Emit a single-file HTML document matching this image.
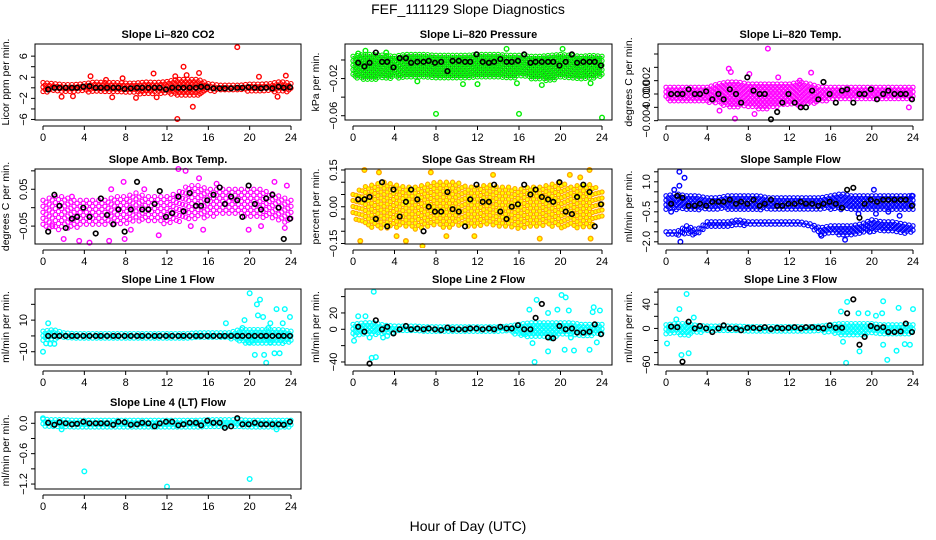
<!DOCTYPE html>
<html><head><meta charset="utf-8"><title>FEF_111129 Slope Diagnostics</title>
<style>
html,body{margin:0;padding:0;background:#fff;}
svg{display:block;font-family:"Liberation Sans",Arial,sans-serif;}
</style></head>
<body>
<svg id="chart" width="936" height="540" viewBox="0 0 936 540">
<rect x="0" y="0" width="936" height="540" fill="#fff"/>
<text x="468" y="14" text-anchor="middle" font-size="14">FEF_111129  Slope Diagnostics</text>
<text x="468" y="531" text-anchor="middle" font-size="14">Hour of Day (UTC)</text>
</svg>
<script>
// shared hours of black (hourly-mean) points
const blkX=[0.5,1.1,1.6,2.2,2.8,3.3,3.9,4.5,5.1,5.6,6.2,6.8,7.3,7.9,8.5,9.1,9.6,10.2,10.8,11.3,11.9,12.5,13.1,13.6,14.2,14.8,15.3,15.9,16.5,17.1,17.6,18.2,18.8,19.3,19.9,20.5,21.1,21.6,22.2,22.8,23.3,23.9];
const xTicks=[0,4,8,12,16,20,24];

// Panel 1: CO2
const co2Lo=[-0.8,-0.8,-0.7,-0.8,-0.8,-1,-1,-0.8,-1,-1.2,-1.2,-1,-1.2,-1.5,-1.6,-1.5,-0.8,-0.6,-0.6,-0.6,-0.8,-0.8,-0.8,-0.9,-0.8];
const co2Hi=[1,0.8,0.6,0.6,0.8,1.1,1,1,0.9,0.9,1.1,1,1.2,1.6,1.6,1.6,0.8,0.5,0.5,0.5,0.7,0.7,0.8,1.2,0.8];
const co2OutX=[1.8,4.6,6.7,7.7,9.0,10.7,11.0,12.8,13.0,13.6,14.5,13.9,15.1,18.8,20.9,22.7,23.5,2.9,6.1];
const co2OutY=[-1.7,2.2,-1.8,1.8,-1.9,2.7,-1.8,2.2,-5.9,4.0,-3.6,2.4,2.8,7.7,2.1,-1.7,2.3,-1.6,1.5];
const co2Blk=[-0.3,0,0,0,0,0,0.2,0.3,0,0,0,0,0,-0.2,-0.1,0,0,0,0,0,-0.3,0,0,0,0,0,0.2,0.1,-0.1,-0.1,-0.1,-0.1,0,0,0.1,0,-0.1,0,-0.1,0.2,0,0.1];

// Panel 2: Pressure
const presLo=[-0.018,-0.022,-0.022,-0.02,-0.02,-0.02,-0.02,-0.02,-0.02,-0.02,-0.02,-0.019,-0.019,-0.02,-0.02,-0.021,-0.019,-0.02,-0.022,-0.022,-0.02,-0.02,-0.021,-0.021,-0.018];
const presHi=[0.004,0.006,0.006,0.005,0.004,0.006,0.006,0.006,0.005,0.005,0.005,0.005,0.006,0.006,0.006,0.005,0.005,0.004,0.004,0.005,0.006,0.005,0.004,0.005,0.004];
const presOutX=[8,16,24,1.2,14.8,20.2,10.6,12,6.2,18.2,15.8,0.5,3.2,22.9];
const presOutY=[-0.058,-0.058,-0.062,0.01,0.012,0.012,-0.026,-0.026,-0.023,-0.027,-0.025,0.007,0.008,-0.025];
const presBlk=[-0.003,-0.007,-0.003,0.008,-0.002,-0.002,-0.008,0.002,0.002,-0.003,-0.002,-0.002,-0.001,-0.003,-0.002,-0.012,-0.001,-0.001,-0.002,-0.002,0.006,-0.002,-0.003,-0.002,0.001,-0.002,-0.002,-0.001,0.006,-0.003,-0.002,-0.002,-0.002,-0.002,-0.006,-0.002,0.006,-0.003,-0.002,-0.002,-0.002,-0.006];

// Panel 3: Li-820 Temp
const tmpLo=[-0.001,-0.0013,-0.0013,-0.001,-0.0013,-0.0015,-0.002,-0.002,-0.002,-0.0022,-0.0022,-0.0018,-0.0015,-0.002,-0.0015,-0.0013,-0.001,-0.001,-0.001,-0.001,-0.001,-0.001,-0.001,-0.001,-0.001];
const tmpHi=[0.001,0.001,0.001,0.001,0.001,0.0015,0.0018,0.0018,0.0015,0.0015,0.0015,0.0015,0.0015,0.0018,0.0015,0.001,0.001,0.001,0.001,0.001,0.001,0.001,0.001,0.001,0.001];
const tmpOutX=[9.9,6.7,6.1,8.1,14.1,5.2,8.6,23.6,6.3,10.9,13.0];
const tmpOutY=[0.0068,-0.0037,0.0038,0.003,0.0032,-0.0025,-0.003,-0.002,0.0033,0.0025,0.002];
const tmpBlk=[0,0,0,0.0007,0,0,0.0004,-0.0008,0,-0.0008,0.0007,0,-0.0013,0.0025,0.0005,0,0,-0.0038,-0.0027,-0.0013,0,-0.0013,-0.002,-0.002,0.0005,-0.0008,0.0018,0,-0.0013,0.0005,0.0007,-0.0013,0,0,0.0007,-0.0008,0,0.0005,0,0,0,-0.0008];

// Panel 4: Amb Box Temp
const ambLo=[-0.06,-0.06,-0.06,-0.06,-0.05,-0.05,-0.05,-0.05,-0.05,-0.04,-0.04,-0.04,-0.05,-0.04,-0.03,-0.03,-0.03,-0.02,-0.02,-0.02,-0.03,-0.03,-0.03,-0.04,-0.04];
const ambHi=[0.02,0.03,0.03,0.02,0.02,0.02,0.02,0.03,0.03,0.04,0.03,0.03,0.03,0.04,0.06,0.06,0.05,0.05,0.05,0.05,0.05,0.05,0.04,0.03,0.02];
const ambOutX=[0.9,2.0,3.5,4.5,6.4,7.9,7.8,11.2,13.1,13.8,14.3,15.1,15.5,19.9,23.6,23.4,8.5,21.1,22.4,6.6,9.8,2.8,16.8];
const ambOutY=[-0.05,-0.085,-0.09,-0.095,-0.09,-0.085,0.07,-0.075,0.105,0.1,-0.05,0.08,-0.06,-0.06,0.06,-0.055,-0.06,-0.05,0.07,0.05,0.05,0.03,0.065];
const ambBlk=[-0.065,0.035,0.005,-0.055,-0.03,-0.025,0.0,-0.025,-0.07,0.025,-0.02,-0.045,-0.005,-0.065,-0.005,0.07,-0.005,-0.005,0.01,0.045,-0.025,-0.015,0.03,-0.01,0.04,0.005,0.005,0.02,0.035,0.055,0.01,0.03,0.02,-0.025,0.06,0.01,-0.005,0.025,0.035,0.0,-0.085,-0.03];

// Panel 5: Gas Stream RH
const rhLo=[-0.04,-0.08,-0.09,-0.09,-0.09,-0.08,-0.1,-0.09,-0.08,-0.09,-0.08,-0.08,-0.08,-0.08,-0.08,-0.08,-0.09,-0.08,-0.08,-0.08,-0.09,-0.08,-0.09,-0.08,-0.05];
const rhHi=[0.05,0.08,0.09,0.1,0.09,0.08,0.08,0.09,0.1,0.1,0.1,0.08,0.08,0.09,0.08,0.08,0.07,0.08,0.08,0.09,0.1,0.08,0.09,0.09,0.06];
const rhOutX=[0.7,1.1,2.5,5.1,6.7,7.5,11.7,13.5,18.0,20.9,21.9,22.8,22.9,4.2,9.0];
const rhOutY=[-0.14,0.15,0.14,-0.14,-0.16,0.14,-0.12,0.13,-0.13,0.13,0.12,0.15,-0.13,-0.12,-0.12];
const rhBlk=[0.03,0.03,0.04,-0.05,0.1,-0.08,0.07,-0.04,0.02,0.07,0.03,-0.1,0.0,-0.02,-0.02,0.06,-0.01,-0.02,-0.08,0.03,0.09,0.02,0.02,0.09,-0.02,-0.05,0.0,0.01,0.09,0.05,0.07,0.04,0.03,0.02,0.1,-0.02,-0.03,0.04,0.09,0.06,-0.08,0.01];

// Panel 6: Sample Flow (two clusters)
const sfLo=[-0.4,-0.4,-0.4,-0.4,-0.4,-0.4,-0.4,-0.4,-0.4,-0.4,-0.4,-0.4,-0.4,-0.4,-0.4,-0.4,-0.4,-0.4,-0.4,-0.4,-0.4,-0.4,-0.4,-0.4,-0.4];
const sfHi=[0.3,0.4,0.3,0.3,0.2,0.2,0.3,0.3,0.3,0.3,0.2,0.2,0.2,0.2,0.2,0.2,0.3,0.4,0.3,0.3,0.3,0.3,0.3,0.3,0.3];
const sfLo2=[-1.7,-1.7,-1.6,-1.7,-1.3,-1.3,-1.3,-1.2,-1.2,-1.2,-1.2,-1.2,-1.2,-1.2,-1.3,-1.7,-1.6,-1.7,-1.7,-1.6,-1.5,-1.5,-1.5,-1.6,-1.6];
const sfHi2=[-1.5,-1.5,-1.2,-1.4,-1.0,-1.0,-1.0,-0.9,-1.0,-1.0,-1.0,-1.0,-1.0,-1.0,-1.1,-1.3,-1.2,-1.2,-1.2,-1.1,-0.9,-1.0,-1.0,-1.1,-1.2];
const sfOutX=[1.3,1.8,1.4,0.5,17.4,18.7,19.8,21.6,22.7,20.4,15.1,23.9,1.3,0.8,20.2];
const sfOutY=[1.5,1.2,-2.0,-0.5,-1.9,-0.6,-1.5,-0.5,-0.7,-0.6,-1.7,0.3,0.8,0.6,0.6];
const sfBlk=[-0.1,0.3,0.2,-0.2,-0.2,-0.1,-0.2,0.0,0.0,0.0,0.1,-0.1,0.0,-0.1,0.1,-0.2,-0.1,0.1,-0.2,-0.2,-0.1,-0.1,0.0,-0.1,-0.1,-0.2,-0.1,0.0,-0.1,-0.3,0.6,0.7,-0.8,-0.1,0.1,0.0,0.1,0.1,0.1,0.1,0.1,-0.2];

// Panel 7: Line 1 Flow
const l1Lo=[-3,-3,-1.5,-1.5,-1.5,-1.5,-1.5,-1.5,-1.5,-1.5,-1.5,-1.5,-1.5,-1.5,-1.5,-2,-2,-2,-2,-4,-5,-5,-5,-5,-5];
const l1Hi=[3,4,2,1.5,1.5,1.5,1.5,1.5,1.5,1.5,1.5,1.5,1.5,1.5,1.5,2,2,2,2,4,4,4,4,4,3];
const l1OutX=[0,0.3,0.7,1.1,0.5,17.7,19.5,19.9,20,20.5,20.7,21,20.8,21.4,21.6,21.3,22.0,22.4,22.6,22.9,23.4,23.9,23.2,22.0,19.3,20.3,21.8];
const l1OutY=[-10,-4.7,-5,-5,8,8,10,-4,27,-12,20,23,13,-12,-17,12,-4,-11,17,-11,17,12,8,8,5,-3,5];
const l1Blk=[0,0,0,0,0,0,0,0,0,0,0,0,0,0,0,0,0,0,0,0,0,0,0,0,0,0,0,0,0,0,0,0,0,0,0,0,0,0,0,0,0,0];

// Panel 8: Line 2 Flow
const l2Lo=[-8,-8,-8,-5,-4,-4,-4,-3,-3,-3,-3,-3,-3,-3,-3,-4,-8,-10,-10,-10,-8,-8,-8,-8,-6];
const l2Hi=[6,8,8,5,4,4,4,3,3,3,3,3,3,3,3,4,6,8,8,8,8,8,6,6,6];
const l2OutX=[0.1,0.5,1.8,2.0,2.2,1.2,1.6,3.3,17.0,17.5,17.7,18.8,18.8,19.7,20.1,20.5,20.8,20.4,21.3,22.8,23.2,23.8,23.5,17.3,19.1,21.0,16.4,23.1,2.9];
const l2OutY=[-14,16,-35,46,-34,16,-10,-8,24,-40,36,-27,20,24,42,39,23,-25,-26,-25,27,23,-16,-17,-11,-10,-5,21,-10];
const l2Blk=[3,-3,-42,11,0,3,-5,0,4,0,1,0,1,0,-1,2,0,0,0,1,1,0,1,0,3,1,1,5,0,0,14,31,-10,-11,4,0,1,-4,-4,-3,6,-6];

// Panel 9: Line 3 Flow
const l3Lo=[-10,-10,-12,-8,-6,-6,-6,-6,-5,-5,-5,-5,-5,-5,-5,-6,-8,-12,-12,-12,-10,-10,-10,-10,-8];
const l3Hi=[6,8,8,5,4,4,4,4,3,3,3,3,3,3,3,4,6,8,8,8,8,6,6,6,6];
const l3OutX=[0.1,1.3,1.5,2.0,2.2,2.7,1.0,17.0,17.5,17.6,18.8,18.7,19.6,20.4,21.1,21.1,21.5,22.4,22.6,23.2,23.7,24.0,17.2,21.0];
const l3OutY=[-25,32,-44,57,-41,18,15,28,-57,44,-38,25,25,21,45,-27,-52,-37,34,-26,-27,32,-22,25];
const l3Blk=[3,2,-55,11,0,4,0,-6,0,5,0,0,-3,1,1,0,2,-1,1,0,1,2,0,2,2,1,0,5,1,1,25,48,-27,-14,4,1,2,-6,-6,-5,8,-6];

// Panel 10: Line 4 (LT) Flow
const l4Lo=[-0.08,-0.1,-0.1,-0.09,-0.09,-0.09,-0.09,-0.09,-0.09,-0.09,-0.09,-0.09,-0.09,-0.09,-0.09,-0.09,-0.09,-0.09,-0.1,-0.1,-0.1,-0.1,-0.1,-0.1,-0.09];
const l4Hi=[0.08,0.07,0.07,0.06,0.06,0.06,0.06,0.06,0.06,0.06,0.06,0.06,0.06,0.06,0.06,0.06,0.07,0.07,0.07,0.07,0.06,0.06,0.06,0.06,0.06];
const l4OutX=[4,12,20,0,1.8,22.6];
const l4OutY=[-0.95,-1.25,-1.1,0.1,-0.12,-0.12];
const l4Blk=[0.01,-0.03,0.02,0.0,-0.02,-0.01,0.03,0.0,0.0,0.0,0.0,-0.03,0.03,0.02,-0.03,-0.02,0.01,0.0,-0.06,0.0,0.03,0.03,-0.04,-0.02,0.01,0.01,-0.04,0.05,0.01,0.01,-0.09,-0.06,0.1,-0.02,-0.02,0.01,-0.02,-0.02,-0.02,-0.02,-0.03,0.03];

const NS='http://www.w3.org/2000/svg';
const svg=document.getElementById('chart');
const cols=[{L:35,R:301},{L:345,R:612},{L:658,R:923}];
const rows=[{T:44,B:120},{T:169,B:244},{T:289,B:365},{T:412,B:489}];

const panels=[
 {id:'co2',title:'Slope Li\u2013820 CO2',ylab:'Licor ppm per min.',c:0,r:0,ymin:-6.1,ymax:8.3,ticks:[-6,-4,-2,0,2,4,6],labs:[[-6,'\u22126'],[-2,'\u22122'],[2,'2'],[6,'6']],col:'#ff0000',fill:'none',lo:co2Lo,hi:co2Hi,ox:co2OutX,oy:co2OutY,blk:co2Blk},
 {id:'pressure',title:'Slope Li\u2013820 Pressure',ylab:'kPa per min.',c:1,r:0,ymin:-0.0646,ymax:0.0172,ticks:[-0.06,-0.04,-0.02,0],labs:[[-0.02,'\u22120.02'],[-0.06,'\u22120.06']],col:'#00ee00',fill:'none',lo:presLo,hi:presHi,ox:presOutX,oy:presOutY,blk:presBlk,dots:true},
 {id:'li820-temp',title:'Slope Li\u2013820 Temp.',ylab:'degrees C per min.',c:2,r:0,ymin:-0.0039,ymax:0.0075,ticks:[-0.004,-0.002,0,0.002,0.004,0.006],labs:[[-0.004,'\u22120.004'],[0,'0.000'],[0.002,'0.002']],col:'#ff00ff',fill:'none',lo:tmpLo,hi:tmpHi,ox:tmpOutX,oy:tmpOutY,blk:tmpBlk},
 {id:'amb-box-temp',title:'Slope Amb. Box Temp.',ylab:'degrees C per min.',c:0,r:1,ymin:-0.0986,ymax:0.105,ticks:[-0.05,0,0.05,0.1],labs:[[-0.05,'\u22120.05'],[0.05,'0.05']],col:'#ff00ff',fill:'none',lo:ambLo,hi:ambHi,ox:ambOutX,oy:ambOutY,blk:ambBlk,sparse:true},
 {id:'gas-stream-rh',title:'Slope Gas Stream RH',ylab:'percent per min.',c:1,r:1,ymin:-0.152,ymax:0.154,ticks:[-0.15,-0.1,-0.05,0,0.05,0.1,0.15],labs:[[-0.15,'\u22120.15'],[0,'0.00'],[0.15,'0.15']],col:'#ffa500',fill:'#ffff00',lo:rhLo,hi:rhHi,ox:rhOutX,oy:rhOutY,blk:rhBlk,sparse:true},
 {id:'sample-flow',title:'Slope Sample Flow',ylab:'ml/min per min.',c:2,r:1,ymin:-2.11,ymax:1.64,ticks:[-2,-1.5,-1,-0.5,0,0.5,1,1.5],labs:[[-2,'\u22122.0'],[-0.5,'\u22120.5'],[1,'1.0']],col:'#0000ff',fill:'none',lo:sfLo,hi:sfHi,lo2:sfLo2,hi2:sfHi2,ox:sfOutX,oy:sfOutY,blk:sfBlk},
 {id:'line1-flow',title:'Slope Line 1 Flow',ylab:'ml/min per min.',c:0,r:2,ymin:-18.4,ymax:29.7,ticks:[-10,0,10,20],labs:[[-10,'\u221210'],[10,'10']],col:'#00ffff',fill:'none',lo:l1Lo,hi:l1Hi,ox:l1OutX,oy:l1OutY,blk:l1Blk},
 {id:'line2-flow',title:'Slope Line 2 Flow',ylab:'ml/min per min.',c:1,r:2,ymin:-43.7,ymax:49.3,ticks:[-40,-20,0,20,40],labs:[[-40,'\u221240'],[0,'0'],[20,'20']],col:'#00ffff',fill:'none',lo:l2Lo,hi:l2Hi,ox:l2OutX,oy:l2OutY,blk:l2Blk},
 {id:'line3-flow',title:'Slope Line 3 Flow',ylab:'ml/min per min.',c:2,r:2,ymin:-60.5,ymax:65.2,ticks:[-60,-40,-20,0,20,40,60],labs:[[-60,'\u221260'],[0,'0'],[40,'40']],col:'#00ffff',fill:'none',lo:l3Lo,hi:l3Hi,ox:l3OutX,oy:l3OutY,blk:l3Blk},
 {id:'line4-flow',title:'Slope Line 4 (LT) Flow',ylab:'ml/min per min.',c:0,r:3,ymin:-1.298,ymax:0.223,ticks:[-1.2,-0.9,-0.6,-0.3,0],labs:[[-1.2,'\u22121.2'],[-0.6,'\u22120.6'],[0,'0.0']],col:'#00ffff',fill:'none',lo:l4Lo,hi:l4Hi,ox:l4OutX,oy:l4OutY,blk:l4Blk}
];

function mk(tag,attrs,parent){const e=document.createElementNS(NS,tag);for(const k in attrs)e.setAttribute(k,attrs[k]);(parent||svg).appendChild(e);return e;}
function interp(arr,t){const i=Math.min(23,Math.floor(t));const f=t-i;return arr[i]*(1-f)+arr[i+1]*f;}

panels.forEach(p=>{
  const L=cols[p.c].L,R=cols[p.c].R,T=rows[p.r].T,B=rows[p.r].B;
  const x0=L+8,x1=R-10;
  const xs=h=>x0+(x1-x0)*h/24;
  const ys=v=>B-(B-T)*(v-p.ymin)/(p.ymax-p.ymin);
  const g=mk('g',{});
  
  
  const clipId='clip-'+p.id;
  const cp=mk('clipPath',{id:clipId},g);
  mk('rect',{x:L-4,y:T-4,width:R-L+8,height:B-T+8},cp);
  const pts=mk('g',{'clip-path':'url(#'+clipId+')'},g);
  
  
  function band(lo,hi,step,ystep){
    let k=0;
    for(let t=0;t<=24.001;t+=step){
      const yl=ys(interp(lo,t)),yh=ys(interp(hi,t));
      const top=Math.min(yl,yh),bot=Math.max(yl,yh);
      const off=(k%2)*ystep/2;k++;
      for(let y=top+off;y<=bot+0.1;y+=ystep){
        const c=mk('circle',{cx:xs(t).toFixed(1),cy:y.toFixed(1),r:2.1,fill:p.fill,stroke:p.col,'stroke-width':1.1},pts);
        
        
        if(p.dots){mk('circle',{cx:xs(t).toFixed(1),cy:y.toFixed(1),r:0.6,fill:'#225522'},pts);}
      }
    }
  }
  band(p.lo,p.hi,p.sparse?0.3:0.2,p.sparse?6:4.5);
  if(p.lo2)band(p.lo2,p.hi2,0.2,4.5);
  p.ox.forEach((h,i)=>{
    const c=mk('circle',{cx:xs(h),cy:ys(p.oy[i]),r:2.3,fill:p.fill,stroke:p.col,'stroke-width':1.4},pts);
    
    
  });
  blkX.forEach((h,i)=>{
    const c=mk('circle',{cx:xs(h),cy:ys(p.blk[i]),r:2.3,fill:'none',stroke:'#000','stroke-width':1.6},pts);
    
    
  });
  const box=mk('rect',{x:L,y:T,width:R-L,height:B-T,fill:'none',stroke:'#000','stroke-width':1},g);
  
  
  const xa=mk('g',{},g);
  
  
  const ay=B+6;
  mk('line',{x1:xs(0),x2:xs(24),y1:ay,y2:ay,stroke:'#000','stroke-width':1},xa);
  xTicks.forEach(h=>{
    mk('line',{x1:xs(h),x2:xs(h),y1:ay,y2:ay+4,stroke:'#000','stroke-width':1},xa);
    const tx=mk('text',{x:xs(h),y:ay+15,'text-anchor':'middle','font-size':11},xa);
    tx.textContent=h;
    
    
  });
  const ya=mk('g',{},g);
  
  
  p.ticks.forEach(v=>{mk('line',{x1:L-4,x2:L,y1:ys(v),y2:ys(v),stroke:'#000','stroke-width':1},ya);});
  p.labs.forEach(([v,s])=>{
    const tx=mk('text',{x:L-8,y:ys(v),'text-anchor':'middle','font-size':11,transform:'rotate(-90 '+(L-8)+' '+ys(v)+')'},ya);
    tx.textContent=s;
    
    
  });
  const yt=mk('text',{x:L-26,y:(T+B)/2,'text-anchor':'middle','font-size':10.5,transform:'rotate(-90 '+(L-26)+' '+((T+B)/2)+')'},g);
  yt.textContent=p.ylab;
  
  
  const tt=mk('text',{x:(L+R)/2,y:T-6,'text-anchor':'middle','font-size':11,'font-weight':'bold'},g);
  tt.textContent=p.title;
  
  
});
</script>
</body></html>
